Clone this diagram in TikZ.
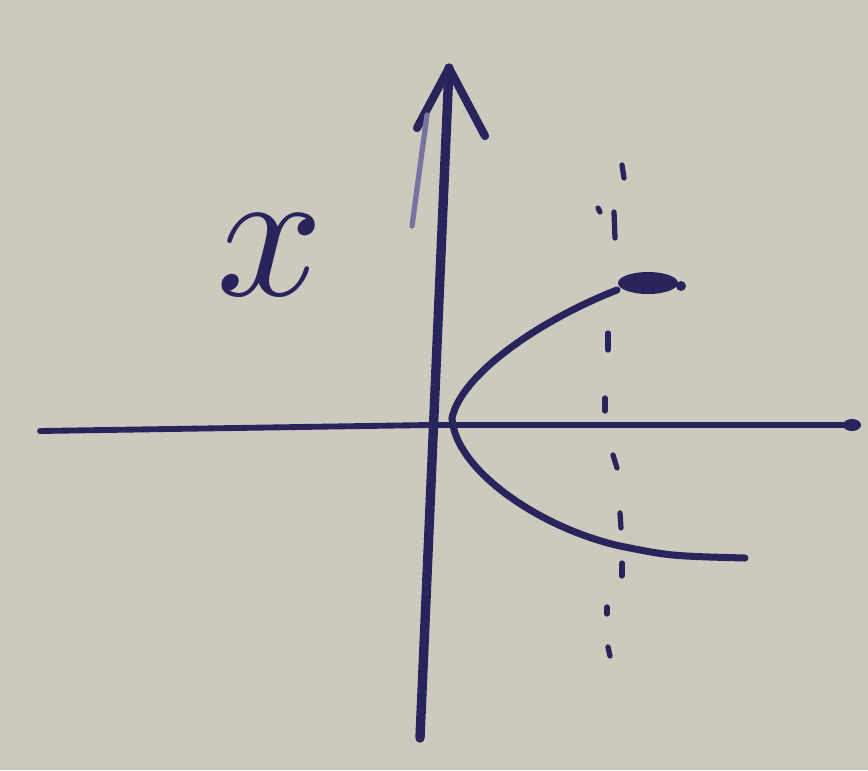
\documentclass[tikz,border=0pt]{standalone}
\usepackage{tikz}
\definecolor{paper}{RGB}{204,201,190}
\definecolor{ink}{RGB}{42,36,92}
\definecolor{faint}{RGB}{120,115,160}
\begin{document}
\begin{tikzpicture}[x=0.03cm,y=-0.03cm,
  axis/.style={draw=ink,line cap=round,line join=round},
  dashmark/.style={draw=ink,line width=4.5pt,line cap=round},
  curve/.style={draw=ink,line width=6pt,line cap=round}]
\fill[paper] (0,0) rectangle (868,770);
\useasboundingbox (0,0) rectangle (868,770);
% axes end points
\coordinate (hl) at (40,431);
\coordinate (hm) at (430,425);
\coordinate (hr) at (852,425);
\coordinate (vb) at (420,738);
\coordinate (vt) at (449,68);
\coordinate (al) at (417,128);
\coordinate (ar) at (485,136);
% horizontal axis
\draw[axis,line width=5pt] (hl) -- (hm) -- (hr);
\fill[ink] (hr) ellipse (9 and 6);
% vertical axis with hand-drawn arrowhead
\draw[axis,line width=8pt] (vb) -- (vt);
\draw[axis,line width=7pt] (al) -- (vt) -- (ar);
\draw[faint,line width=4.5pt,line cap=round] (427,115) -- (412,226);
% parabola-like curve
\coordinate (ctop) at (617,290);
\coordinate (cv) at (452,418);
\coordinate (cend) at (745,558);
\draw[curve] (ctop) .. controls (545,318) and (462,372) .. (cv)
  .. controls (455,470) and (540,528) .. (620,546)
  .. controls (670,556) .. (cend);
\fill[ink] (648,283) ellipse (30 and 11);
\fill[ink] (681,286) circle (5);
% dashed vertical line
\draw[dashmark] (622,165) -- (624,178);
\draw[dashmark] (598,208) -- (600,212);
\draw[dashmark] (614,212) -- (615,238);
\draw[dashmark] (608,333) -- (608,350);
\draw[dashmark] (605,398) -- (605,411);
\draw[dashmark] (613,455) -- (617,468);
\draw[dashmark] (620,513) -- (621,528);
\draw[dashmark] (622,563) -- (622,576);
\draw[dashmark] (607,607) -- (607,614);
\draw[dashmark] (608,647) -- (610,656);
% label
\node[text=ink,inner sep=0pt,scale=16] (lbl) at (270,255) {$x$};
\end{tikzpicture}
\end{document}
